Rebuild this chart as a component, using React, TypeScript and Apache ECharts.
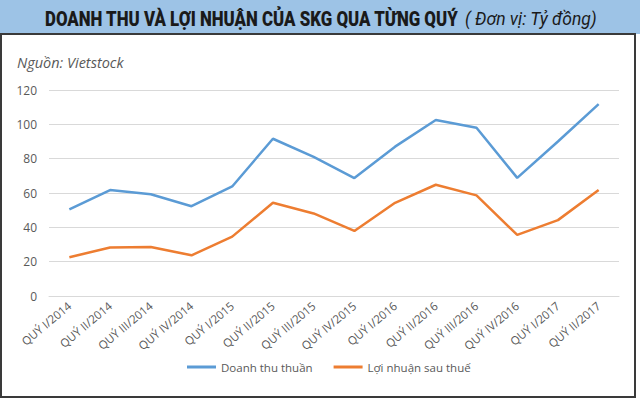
import React, { useEffect, useRef } from "react";
import * as echarts from "echarts";

const categories = [
  "QUÝ I/2014", "QUÝ II/2014", "QUÝ III/2014", "QUÝ IV/2014",
  "QUÝ I/2015", "QUÝ II/2015", "QUÝ III/2015", "QUÝ IV/2015",
  "QUÝ I/2016", "QUÝ II/2016", "QUÝ III/2016", "QUÝ IV/2016",
  "QUÝ I/2017", "QUÝ II/2017",
];
const doanhThu = [50.4, 61.7, 59.3, 52.3, 63.8, 91.6, 81.1, 68.7, 87, 102.5, 98, 68.8, 90, 111.8];
const loiNhuan = [22.6, 28.2, 28.6, 23.7, 34.6, 54.3, 48.1, 37.9, 54.3, 64.8, 58.6, 35.6, 44.2, 61.7];
const seriesNames = ["Doanh thu thuần", "Lợi nhuận sau thuế"];
const titleMain = "DOANH THU VÀ LỢI NHUẬN CỦA SKG QUA TỪNG QUÝ";
const titleUnit = "( Đơn vị: Tỷ đồng)";
const sourceText = "Nguồn: Vietstock";

const FONT = "'Open Sans', 'Noto Sans', sans-serif";
const TITLE_FONT = "Roboto, 'Noto Sans', sans-serif";

function measure(text: string, font: string): number {
  const c = document.createElement("canvas").getContext("2d");
  if (!c) return 1;
  c.font = font;
  return c.measureText(text).width || 1;
}

export default function App() {
  const ref = useRef<HTMLDivElement>(null);
  useEffect(() => {
    if (!ref.current) return;
    const chart = echarts.init(ref.current, undefined, { renderer: "svg" });
    const mainW = measure(titleMain, "900 21px Roboto");
    const unitW = measure(titleUnit, "italic 18px Roboto");
    chart.setOption({
      animation: false,
      backgroundColor: "#ffffff",
      graphic: [
        { type: "rect", z: -10, shape: { x: 0, y: 0, width: 640, height: 34 }, style: { fill: "#9DC3E6" } },
        { type: "rect", z: -10, shape: { x: 1, y: 34, width: 634, height: 363 }, style: { fill: "#ffffff", stroke: "#3a3a3a", lineWidth: 2 } },
        {
          type: "text", x: 45, y: 19, scaleX: 414 / mainW,
          style: { text: titleMain, fontFamily: TITLE_FONT, fontWeight: 900, fontSize: 21, fill: "#1a1a1a", verticalAlign: "middle", align: "left" },
        },
        {
          type: "text", x: 465, y: 19, scaleX: 132 / unitW,
          style: { text: titleUnit, fontFamily: TITLE_FONT, fontStyle: "italic", fontSize: 18, fill: "#1a1a1a", verticalAlign: "middle", align: "left" },
        },
        {
          type: "text", x: 17, y: 62,
          style: { text: sourceText, fontFamily: FONT, fontStyle: "italic", fontSize: 14.5, fill: "#595959", verticalAlign: "middle", align: "left" },
        },
      ],
      legend: {
        bottom: 21,
        left: 182,
        itemWidth: 29,
        itemHeight: 3,
        itemGap: 21,
        icon: "rect",
        textStyle: { fontFamily: FONT, fontSize: 11.5, color: "#595959" },
        data: seriesNames,
      },
      grid: { left: 49, right: 21, top: 90, bottom: 103, containLabel: false },
      xAxis: {
        type: "category",
        data: categories,
        boundaryGap: true,
        axisLine: { show: true, lineStyle: { color: "#D9D9D9" } },
        axisTick: { show: false },
        axisLabel: { interval: 0, rotate: 40, fontSize: 11.5, color: "#595959", fontFamily: FONT, margin: 8 },
      },
      yAxis: {
        type: "value",
        min: 0,
        max: 120,
        interval: 20,
        axisLine: { show: false },
        axisTick: { show: false },
        axisLabel: { fontSize: 12, color: "#595959", fontFamily: FONT, margin: 12 },
        splitLine: { lineStyle: { color: "#D9D9D9", width: 1 } },
      },
      series: [
        { name: seriesNames[0], type: "line", data: doanhThu, symbol: "none", lineStyle: { color: "#5B9BD5", width: 2.5 }, itemStyle: { color: "#5B9BD5" } },
        { name: seriesNames[1], type: "line", data: loiNhuan, symbol: "none", lineStyle: { color: "#ED7D31", width: 2.5 }, itemStyle: { color: "#ED7D31" } },
      ],
    });
    return () => chart.dispose();
  }, []);
  return <div ref={ref} style={{ position: "fixed", left: 0, top: 0, width: 640, height: 399 }} />;
}
